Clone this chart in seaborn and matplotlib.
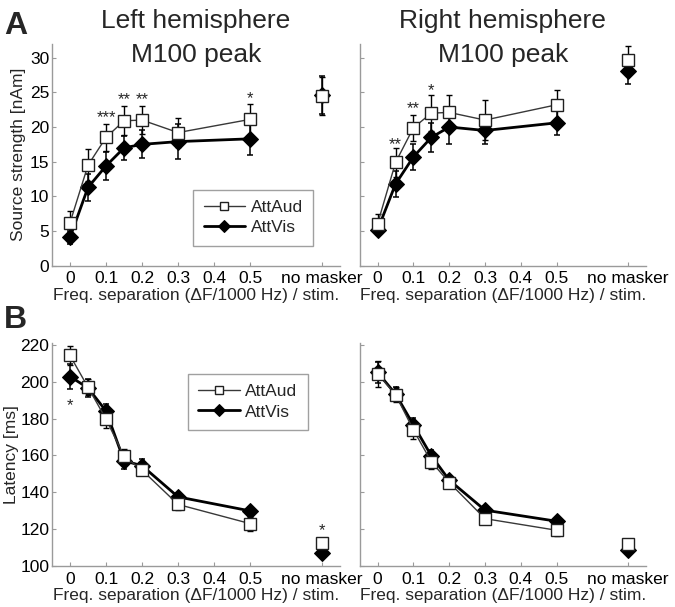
import matplotlib
matplotlib.use('Agg')
import matplotlib.pyplot as plt
import seaborn as sns

# frequency separations (x), "no masker" sits at x=0.7
sep = [0, 0.05, 0.1, 0.15, 0.2, 0.3, 0.5]
nm_x = 0.7
xticks = [0, 0.1, 0.2, 0.3, 0.4, 0.5, 0.7]
xticklabels = ['0', '0.1', '0.2', '0.3', '0.4', '0.5', 'no masker']

# A: source strength [nAm], left hemisphere
amp_l_aud = [6.2, 14.5, 18.5, 20.9, 21.0, 19.2, 21.1]
amp_l_aud_err = [1.7, 2.3, 1.9, 2.1, 2.0, 2.1, 2.2]
amp_l_aud_nm, amp_l_aud_nm_err = 24.5, 2.7
amp_l_vis = [4.1, 11.3, 14.4, 17.0, 17.5, 17.9, 18.3]
amp_l_vis_err = [0.9, 2.0, 2.0, 1.7, 2.0, 2.5, 2.3]
amp_l_vis_nm, amp_l_vis_nm_err = 24.6, 2.7

# A: right hemisphere
amp_r_aud = [6.1, 14.9, 19.9, 22.0, 22.1, 21.0, 23.2]
amp_r_aud_err = [1.3, 2.1, 1.9, 2.6, 2.5, 2.9, 2.1]
amp_r_aud_nm, amp_r_aud_nm_err = 29.7, 2.0
amp_r_vis = [5.2, 11.8, 15.7, 18.5, 20.0, 19.5, 20.6]
amp_r_vis_err = [0.8, 1.9, 1.9, 2.1, 2.4, 2.0, 1.7]
amp_r_vis_nm, amp_r_vis_nm_err = 28.1, 1.9

# B: latency [ms], left hemisphere
lat_l_aud = [214.2, 197.0, 179.7, 159.6, 152.0, 133.4, 123.0]
lat_l_aud_err = [5.0, 4.5, 5.0, 4.0, 2.0, 3.0, 3.8]
lat_l_aud_nm, lat_l_aud_nm_err = 112.5, 2.7
lat_l_vis = [202.8, 196.6, 184.1, 157.1, 154.4, 137.5, 129.9]
lat_l_vis_err = [7.0, 5.0, 4.0, 4.5, 3.4, 2.0, 2.0]
lat_l_vis_nm, lat_l_vis_nm_err = 107.1, 2.0

# B: right hemisphere
lat_r_aud = [204.2, 193.0, 173.8, 156.6, 145.3, 125.7, 119.4]
lat_r_aud_err = [7.0, 4.0, 5.0, 4.0, 3.0, 2.0, 3.0]
lat_r_aud_nm, lat_r_aud_nm_err = 112.1, 2.0
lat_r_vis = [205.0, 193.3, 176.5, 159.8, 146.6, 130.3, 124.3]
lat_r_vis_err = [5.5, 4.0, 4.0, 3.0, 2.5, 2.0, 2.0]
lat_r_vis_nm, lat_r_vis_nm_err = 108.9, 2.0

# significance stars (x, y, text)
stars_amp_l = [(0.1, 21.3, '***'), (0.15, 23.9, '**'), (0.2, 23.9, '**'), (0.5, 24.1, '*')]
stars_amp_r = [(0.05, 17.5, '**'), (0.1, 22.6, '**'), (0.15, 25.3, '*')]
stars_lat_l = [(0, 187.0, '*'), (0.7, 119.0, '*')]
stars_lat_r = []

sns.set_style('ticks')
plt.rcParams['font.family'] = ['Liberation Sans', 'DejaVu Sans']
plt.rcParams['xtick.direction'] = 'in'
plt.rcParams['ytick.direction'] = 'in'

fig = plt.figure(figsize=(6.75, 6.07), dpi=100)
ax_tl = fig.add_axes([0.077, 0.562, 0.427, 0.366])
ax_tr = fig.add_axes([0.533, 0.562, 0.424, 0.366])
ax_bl = fig.add_axes([0.077, 0.0675, 0.427, 0.3675])
ax_br = fig.add_axes([0.533, 0.0675, 0.424, 0.3675])

spine_col = '#9a9a9a'


def panel(ax, aud, aud_err, aud_nm, aud_nm_err, vis, vis_err, vis_nm, vis_nm_err, stars, legend):
    # error bars
    ax.errorbar(sep + [nm_x], vis + [vis_nm], yerr=vis_err + [vis_nm_err], fmt='none',
                ecolor='black', elinewidth=1.1, capsize=2.5, capthick=1.1, zorder=2)
    ax.errorbar(sep + [nm_x], aud + [aud_nm], yerr=aud_err + [aud_nm_err], fmt='none',
                ecolor='black', elinewidth=1.0, capsize=2.5, capthick=1.0, zorder=2)
    # AttVis: thick line, black diamonds
    sns.lineplot(x=sep, y=vis, ax=ax, color='black', lw=2, marker='D', markersize=8.5,
                 markerfacecolor='black', markeredgecolor='black', label='AttVis', zorder=3)
    sns.lineplot(x=[nm_x], y=[vis_nm], ax=ax, color='black', marker='D', markersize=8.5,
                 markerfacecolor='black', markeredgecolor='black', zorder=3)
    # AttAud: thin line, white squares
    sns.lineplot(x=sep, y=aud, ax=ax, color='#383838', lw=1, marker='s', markersize=8.5,
                 markerfacecolor='white', markeredgecolor='#202020', markeredgewidth=1,
                 label='AttAud', zorder=4)
    sns.lineplot(x=[nm_x], y=[aud_nm], ax=ax, color='#383838', marker='s', markersize=8.5,
                 markerfacecolor='white', markeredgecolor='#202020', markeredgewidth=1, zorder=4)
    for sx, sy, st in stars:
        ax.text(sx, sy, st, ha='center', va='center', fontsize=12)

    ax.set_xlim(-0.05, 0.75)
    ax.set_xticks(xticks)
    ax.set_xticklabels(xticklabels)
    ax.set_xlabel('Freq. separation (\u0394F/1000 Hz) / stim.', fontsize=12.5, labelpad=1)
    sns.despine(ax=ax)
    for s in ['left', 'bottom']:
        ax.spines[s].set_color(spine_col)
        ax.spines[s].set_linewidth(1)
    ax.tick_params(colors=spine_col, labelcolor='black', labelsize=12.5, length=3, width=0.8)
    ax.tick_params(axis='x', pad=4)
    ax.tick_params(axis='y', pad=2)
    if legend is None:
        ax.get_legend().remove()
    else:
        h, l = ax.get_legend_handles_labels()
        order = [l.index('AttAud'), l.index('AttVis')]
        ax.legend([h[i] for i in order], [l[i] for i in order], loc='lower left',
                  bbox_to_anchor=legend, fontsize=12.5, frameon=True, fancybox=False,
                  edgecolor='#888888', handlelength=2.4, borderpad=0.6, labelspacing=0.3,
                  handletextpad=0.3, borderaxespad=0, markerscale=0.75)


panel(ax_tl, amp_l_aud, amp_l_aud_err, amp_l_aud_nm, amp_l_aud_nm_err,
      amp_l_vis, amp_l_vis_err, amp_l_vis_nm, amp_l_vis_nm_err, stars_amp_l, (0.49, 0.09))
panel(ax_tr, amp_r_aud, amp_r_aud_err, amp_r_aud_nm, amp_r_aud_nm_err,
      amp_r_vis, amp_r_vis_err, amp_r_vis_nm, amp_r_vis_nm_err, stars_amp_r, None)
panel(ax_bl, lat_l_aud, lat_l_aud_err, lat_l_aud_nm, lat_l_aud_nm_err,
      lat_l_vis, lat_l_vis_err, lat_l_vis_nm, lat_l_vis_nm_err, stars_lat_l, (0.472, 0.61))
panel(ax_br, lat_r_aud, lat_r_aud_err, lat_r_aud_nm, lat_r_aud_nm_err,
      lat_r_vis, lat_r_vis_err, lat_r_vis_nm, lat_r_vis_nm_err, stars_lat_r, None)

for ax in (ax_tl, ax_tr):
    ax.set_ylim(0, 32)
    ax.set_yticks([0, 5, 10, 15, 20, 25, 30])
for ax in (ax_bl, ax_br):
    ax.set_ylim(100, 221)
    ax.set_yticks([100, 120, 140, 160, 180, 200, 220])
ax_tl.set_ylabel('Source strength [nAm]', fontsize=12.5, labelpad=3)
ax_bl.set_ylabel('Latency [ms]', fontsize=12.5, labelpad=1)
ax_tr.set_yticklabels([])
ax_br.set_yticklabels([])
ax_tr.set_ylabel('')
ax_br.set_ylabel('')

# titles
for ax, name in ((ax_tl, 'Left hemisphere'), (ax_tr, 'Right hemisphere')):
    ax.text(0.5, 1.072, name, transform=ax.transAxes, ha='center', va='baseline', fontsize=19)
    ax.text(0.5, 0.919, 'M100 peak', transform=ax.transAxes, ha='center', va='baseline', fontsize=19)

fig.text(0.006, 0.982, 'A', fontsize=23, fontweight='bold', va='top', ha='left')
fig.text(0.006, 0.497, 'B', fontsize=23, fontweight='bold', va='top', ha='left')

fig.savefig('out.png', dpi=100)
